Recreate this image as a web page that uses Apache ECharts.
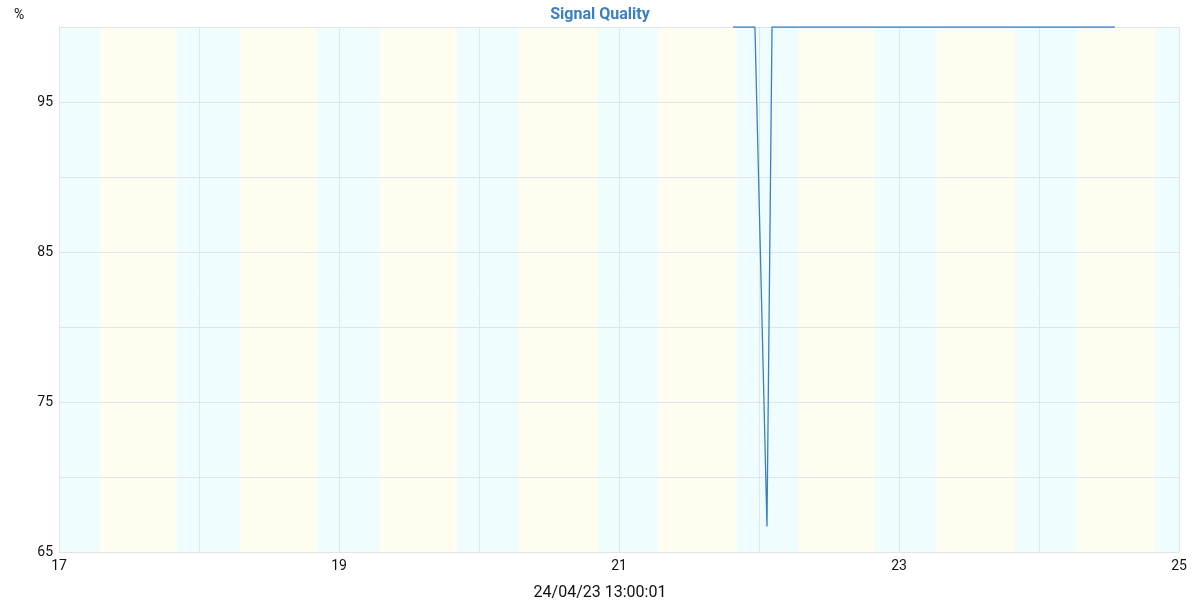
<!DOCTYPE html>
<html>
<head>
<meta charset="utf-8">
<script src="https://cdn.jsdelivr.net/npm/echarts@6/dist/echarts.min.js"></script>
<style>html,body{margin:0;padding:0;background:#fff}#c{width:1200px;height:600px}</style>
</head>
<body>
<div id="c"></div>
<script>
// Day-of-April (fractional) for each sample, and signal quality in %
var sampleDays = [21.814, 21.971, 22.057, 22.093, 24.542];
var sampleValues = [100, 100, 66.7, 100, 100];
// Sunrise / sunset per day (hour of day), days 17..24 April
var bandDays = [17, 18, 19, 20, 21, 22, 23, 24];
var sunriseHours = [7.03, 7.03, 7.03, 6.7, 6.7, 6.7, 6.5, 6.5];
var sunsetHours = [20.23, 20.23, 20.23, 20.4, 20.23, 19.9, 19.9, 19.9];
var xTicks = [17, 19, 21, 23, 25];
var yTicks = [65, 75, 85, 95];
var xMin = 17, xMax = 25, yMin = 65, yMax = 100;
var titleText = 'Signal Quality';
var unitText = '%';
var xName = '24/04/23 13:00:01';

var NIGHT = '#effdff', DAY = '#fffdef';
var areas = [];
var prev = xMin;
for (var i = 0; i < bandDays.length; i++) {
  var sr = bandDays[i] + sunriseHours[i] / 24;
  var ss = bandDays[i] + sunsetHours[i] / 24;
  areas.push([{xAxis: prev, itemStyle: {color: NIGHT}}, {xAxis: sr}]);
  areas.push([{xAxis: sr, itemStyle: {color: DAY}}, {xAxis: ss}]);
  prev = ss;
}
areas.push([{xAxis: prev, itemStyle: {color: NIGHT}}, {xAxis: xMax}]);

var lineData = sampleDays.map(function (d, i) { return [d, sampleValues[i]]; });

var chart = echarts.init(document.getElementById('c'));
chart.setOption({
  animation: false,
  textStyle: {fontFamily: 'Roboto'},
  title: [
    {text: titleText, left: 'center', top: 2, textStyle: {color: '#3a7fc0', fontSize: 16, fontWeight: 'bold', fontFamily: 'Roboto'}},
    {text: unitText, left: 9, top: 3, textStyle: {color: '#111', fontSize: 14, fontWeight: 'normal', fontFamily: 'Roboto'}},
    {text: xName, left: 'center', top: 580, textStyle: {color: '#111', fontSize: 16, fontWeight: 'normal', fontFamily: 'Roboto'}}
  ],
  grid: {left: 59, right: 21, top: 27, bottom: 48, containLabel: false, outerBoundsMode: 'none'},
  xAxis: {
    type: 'value', min: xMin, max: xMax, interval: 1, z: 3,
    axisLine: {show: true, lineStyle: {color: '#e0e5ea'}},
    axisTick: {show: false},
    axisLabel: {color: '#111', fontSize: 14, margin: 7,
      formatter: function (v) { return xTicks.indexOf(v) >= 0 ? String(v) : ''; }},
    splitLine: {show: true, lineStyle: {color: '#e0e5ea', width: 1}}
  },
  yAxis: {
    type: 'value', min: yMin, max: yMax, interval: 5, z: 3,
    axisLine: {show: true, lineStyle: {color: '#e0e5ea'}},
    axisTick: {show: false},
    axisLabel: {color: '#111', fontSize: 14, margin: 6,
      formatter: function (v) { return yTicks.indexOf(v) >= 0 ? String(v) : ''; }},
    splitLine: {show: true, lineStyle: {color: '#e0e5ea', width: 1}}
  },
  series: [
    {
      type: 'line', data: [], z: 1, silent: true,
      markArea: {silent: true, z: 1, data: areas}
    },
    {
      type: 'line', data: lineData, showSymbol: false, z: 5,
      lineStyle: {color: '#3b7fc1', width: 1.3},
      itemStyle: {color: '#3b7fc1'}
    }
  ]
});
</script>
</body>
</html>
